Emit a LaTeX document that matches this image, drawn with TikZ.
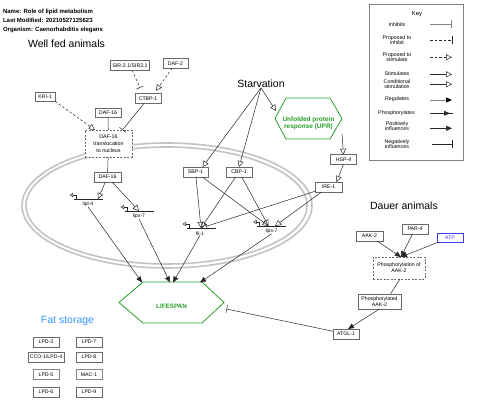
\documentclass[tikz,border=0pt]{standalone}
\usepackage{fontspec}
\setmainfont{Liberation Sans}
\usetikzlibrary{arrows.meta,calc}
\definecolor{edgec}{RGB}{40,40,40}
\definecolor{boxc}{RGB}{105,105,105}
\definecolor{hexgreen}{RGB}{40,160,40}
\definecolor{fatblue}{RGB}{51,153,255}
\definecolor{atpblue}{RGB}{60,60,240}
\definecolor{memgray}{RGB}{195,195,195}
\definecolor{keygray}{RGB}{130,130,130}
\tikzset{
  every node/.style={inner sep=0pt, outer sep=0pt},
  gbox/.style={draw=boxc, line width=0.7pt, fill=white, font=\fontsize{5.2}{5.8}\selectfont, minimum height=9.5pt, align=center},
  dbox/.style={gbox, dash pattern=on 2pt off 1.5pt},
  titletext/.style={font=\fontsize{10.5}{12}\selectfont},
  headtext/.style={anchor=west, font=\bfseries\fontsize{6}{7}\selectfont},
  glab/.style={font=\fontsize{5}{6}\selectfont},
  ktext/.style={font=\fontsize{5.3}{5.6}\selectfont, align=center},
  conn/.style={draw=edgec, line width=0.5pt},
  stim/.style={conn, -{Triangle[open,length=6pt,width=6pt]}},
  pstim/.style={stim, dash pattern=on 2.5pt off 2pt},
  inhib/.style={conn, -{Bar[width=8pt]}},
  pinhib/.style={inhib, dash pattern=on 2.5pt off 2pt},
  regul/.style={conn, -{Triangle[length=6pt,width=5pt]}},
  plainconn/.style={conn},
  hexline/.style={draw=hexgreen, line width=0.8pt},
  membrane/.style={draw=memgray, line width=1.6pt},
  genepic/.pic={
    \draw[edgec, line width=0.6pt] (-14.5,0) -- (14.5,0);
    \draw[edgec, line width=0.5pt, line join=miter, -{Triangle[open,length=3.5pt,width=4pt]}] (-12,0) -- (-12,-4) -- (-18.5,-4);
  }
}
\begin{document}
\begin{tikzpicture}[x=1pt,y=-1pt]
\useasboundingbox (0,0) rectangle (480,414);
\fill[white] (0,0) rectangle (480,414);

% membrane
\draw[membrane] (167,205.5) ellipse [x radius=145pt, y radius=62.5pt];
\draw[membrane] (166.5,205.5) ellipse [x radius=140.5pt, y radius=58.5pt];

% header
\node[headtext] (hname) at (3,11.5) {Name: Role of lipid metabolism};
\node[headtext] (hmod) at (3,20.5) {Last Modified: 20210527125623};
\node[headtext] (horg) at (3,30) {Organism: Caenorhabditis elegans};

% titles
\node[titletext] (wellfed) at (66.5,43.5) {Well fed animals};
\node[titletext] (starv) at (261,84) {Starvation};
\node[titletext] (dauer) at (404,206) {Dauer animals};
\node[titletext, text=fatblue] (fat) at (67.5,321) {Fat storage};

% well fed boxes
\node[gbox, minimum width=39pt] (sir) at (130,65.5) {SIR-2.1/SIR2.1};
\node[gbox, minimum width=25pt] (daf2) at (175.5,63.5) {DAF-2};
\node[gbox, minimum width=20pt, minimum height=8.5pt] (kri1) at (45,97) {KRI-1};
\node[gbox, minimum width=26pt] (ctbp1) at (148,98.5) {CTBP-1};
\node[gbox, minimum width=26pt] (daf16a) at (108,113) {DAF-16};
\node[dbox, minimum width=47pt, minimum height=27pt, font=\fontsize{5.3}{6.7}\selectfont] (trans) at (108.5,143.5) {DAF-16\\translocation\\to nucleus};
\node[gbox, minimum width=27pt, minimum height=10pt] (daf16b) at (107.5,177) {DAF-16};

% starvation boxes
\node[gbox, minimum width=25pt, minimum height=10pt] (sbp1) at (195.5,172) {SBP-1};
\node[gbox, minimum width=26pt, minimum height=10pt] (cbp1) at (239,172) {CBP-1};
\node[gbox, minimum width=26pt] (hsp4) at (343.5,159.5) {HSP-4};
\node[gbox, minimum width=27pt, minimum height=10pt] (ire1) at (328.5,187) {IRE-1};

% UPR hexagon
\coordinate (uprc) at (308.5,118.5);
\draw[hexline] ($(uprc)+(-33.5,0)$) -- ($(uprc)+(-22.5,-20.5)$) -- ($(uprc)+(21.5,-20.5)$) -- ($(uprc)+(33.5,0)$) -- ($(uprc)+(21.5,20.5)$) -- ($(uprc)+(-22.5,20.5)$) -- cycle;
\node[font=\bfseries\fontsize{6.5}{7.2}\selectfont, text=hexgreen, align=center] (upr) at ($(uprc)+(0,4.5)$) {Unfolded protein\\response (UPR)};

% LIFESPAN hexagon
\coordinate (lifec) at (171.5,302.5);
\draw[hexline] ($(lifec)+(-52.5,0)$) -- ($(lifec)+(-28.5,-20.5)$) -- ($(lifec)+(30.5,-20.5)$) -- ($(lifec)+(52.5,0)$) -- ($(lifec)+(30.5,20.5)$) -- ($(lifec)+(-28.5,20.5)$) -- cycle;
\node[font=\bfseries\fontsize{6.3}{7}\selectfont, text=hexgreen] (life) at ($(lifec)+(0,4)$) {LIFESPAN};

% genes
\pic at (88,199) {genepic};
\pic at (139,211) {genepic};
\pic at (201,228) {genepic};
\pic at (271.5,226) {genepic};
\node[glab] (lipl4) at (88,204.5) {lipl-4};
\node[glab] (lips7a) at (139,216.5) {lips-7};
\node[glab] (fil1) at (200,233.5) {fil-1};
\node[glab] (lips7b) at (271.5,231.5) {lips-7};
\coordinate (lipl4in) at (98,199);
\coordinate (lips7ain) at (139,211);
\coordinate (fil1in) at (201,228);
\coordinate (lips7bin) at (268.5,226);
\coordinate (lips7bin2) at (275,226);

% dauer boxes
\node[gbox, minimum width=27pt, minimum height=10pt] (aak2) at (369.5,236) {AAK-2};
\node[gbox, minimum width=26pt, minimum height=10pt] (par4) at (415,229) {PAR-4};
\node[gbox, minimum width=26pt, minimum height=9pt, draw=atpblue, text=atpblue] (atp) at (450,237.5) {ATP};
\node[dbox, minimum width=52pt, minimum height=22pt] (phos) at (399,268) {Phosphorylation of\\AAK-2};
\node[gbox, minimum width=43pt, minimum height=15pt] (phosd) at (379.5,301.5) {Phosphorylated\\AAK-2};
\node[gbox, minimum width=26pt, minimum height=10pt] (atgl1) at (346,334) {ATGL-1};

% fat storage boxes
\node[gbox, minimum width=26pt, minimum height=10pt] (lpd3) at (46,342) {LPD-3};
\node[gbox, minimum width=26pt, minimum height=10pt] (lpd7) at (89,342) {LPD-7};
\node[gbox, minimum width=36pt, minimum height=10pt] (cco1) at (46,357) {CCO-1/LPD-4};
\node[gbox, minimum width=26pt, minimum height=10pt] (lpd8) at (89,357) {LPD-8};
\node[gbox, minimum width=26pt, minimum height=10pt, draw=boxc!80] (lpd5) at (46,374.5) {LPD-5};
\node[gbox, minimum width=26pt, minimum height=10pt, draw=boxc!80] (mac1) at (89,374.5) {MAC-1};
\node[gbox, minimum width=26pt, minimum height=10pt] (lpd6) at (46,392) {LPD-6};
\node[gbox, minimum width=26pt, minimum height=10pt] (lpd9) at (89,392) {LPD-9};

% coordinates on hexagons
\coordinate (uprin) at (276,111);
\coordinate (uprout) at (342,134);
\coordinate (ls1) at (142,282.5);
\coordinate (ls2) at (170,282.5);
\coordinate (ls3) at (173,282.5);
\coordinate (ls4) at (200,282.5);
\coordinate (lsR) at (226.5,309);

% well fed edges
\draw[pinhib] (sir) -- ([xshift=-8pt,yshift=6pt]ctbp1.north);
\draw[pstim] (daf2) -- ([xshift=8pt,yshift=3pt]ctbp1.north);
\draw[pstim] (kri1.south east) -- ([xshift=-13.5pt]trans.north);
\draw[plainconn] (daf16a) -- (trans);
\draw[inhib] (ctbp1) -- ([xshift=14pt]trans.north);
\draw[plainconn] (trans) -- (daf16b);
\draw[stim] (daf16b) -- (lipl4in);
\draw[stim] (daf16b) -- (lips7ain);

% starvation edges
\draw[stim] (starv.south) -- ([xshift=7pt]sbp1.north);
\draw[stim] (starv.south) -- (cbp1.north);
\draw[stim] (starv.south) -- (uprin);
\draw[stim] (uprout) -- (hsp4.north);
\draw[stim] (hsp4.south) -- ([xshift=8pt]ire1.north);
\draw[stim] (sbp1) -- (fil1in);
\draw[stim] (sbp1) -- (lips7bin);
\draw[stim] (cbp1) -- (fil1in);
\draw[stim] (cbp1) -- (lips7bin);
\draw[stim] (ire1) -- (fil1in);
\draw[stim] (ire1) -- (lips7bin2);

% genes to lifespan
\draw[regul] (lipl4.south) -- (ls1);
\draw[regul] (lips7a.south) -- (ls2);
\draw[regul] (fil1.south) -- (ls3);
\draw[regul] (lips7b.south) -- (ls4);

% dauer edges
\draw[regul] (aak2) -- ([xshift=2pt]phos.north);
\draw[regul] (par4) -- ([xshift=2pt]phos.north);
\draw[regul] (atp) -- ([xshift=2pt]phos.north);
\draw[plainconn] ([xshift=1pt]phos.south) -- ([xshift=11pt]phosd.north);
\draw[regul] (phosd.south) -- ([xshift=2pt]atgl1.north);
\draw[inhib] (atgl1) -- (lsR);

% key
\node[draw=keygray, line width=0.9pt, minimum width=94pt, minimum height=156pt] (key) at (416,82) {};
\node[font=\fontsize{6}{7}\selectfont] (keyt) at (417,14.3) {Key};
\node[ktext] (k1) at (397,24.3) {Inhibits};
\node[ktext] (k2) at (397,40) {Proposed to\\inhibit};
\node[ktext] (k3) at (397,57) {Proposed to\\stimulate};
\node[ktext] (k4) at (397,73.3) {Stimulates};
\node[ktext] (k5) at (397,84.3) {Conditional\\stimulation};
\node[ktext] (k6) at (397,99.3) {Regulates};
\node[ktext] (k7) at (396.5,113.3) {Phosphorylates};
\node[ktext] (k8) at (397,126) {Positively\\influences};
\node[ktext] (k9) at (397,144) {Negatively\\influences};
\draw[inhib, draw=keygray, line width=0.9pt] (430,24.3) -- (452,24.3);
\draw[pinhib] (430,40) -- (452,40);
\draw[pstim] (430,57.3) -- (452,57.3);
\draw[stim] (430,74.3) -- (452,74.3);
\draw[stim] (430,84.3) -- (452,84.3);
\draw[keygray, line width=0.9pt, -{Triangle[length=6pt,width=5pt,color=black]}] (430,100) -- (452,100);
\draw[conn] (430,113.3) -- (453,113.3);
\fill[edgec] (450,113.3) -- (444,110.8) -- (444,115.8) -- cycle;
\draw[regul] (430,128.3) -- (452,128.3);
\draw[inhib] (432,144.3) -- (452,144.3);
\end{tikzpicture}
\end{document}
